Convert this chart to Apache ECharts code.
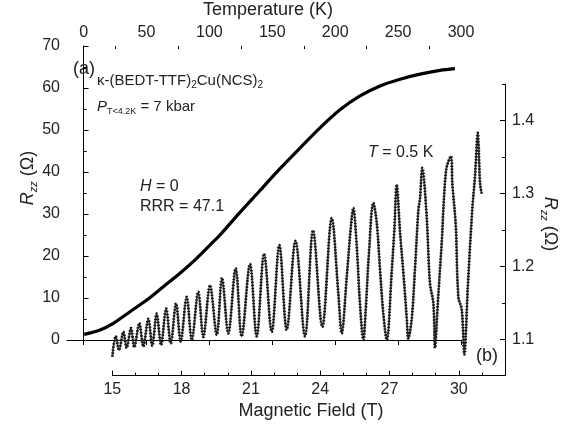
<!DOCTYPE html>
<html><head><meta charset="utf-8">
<script src="https://cdn.jsdelivr.net/npm/echarts@6/dist/echarts.min.js"></script>
<style>html,body{margin:0;padding:0;background:#fff}#c{width:572px;height:429px}</style>
</head><body><div id="c"></div>
<script>
// Panel (a): zero-field resistance vs temperature
const tempK = [0.5, 13.0, 23.6, 36.9, 50.2, 63.4, 76.6, 89.9, 103.1, 108.4, 124.3, 140.2, 154.8, 172.0, 187.9, 203.8, 219.7, 235.6, 251.5, 267.4, 283.3, 295.2];
const rT    = [1.35, 2.38, 3.98, 6.74, 9.52, 12.7, 15.9, 19.45, 23.4, 25.0, 30.4, 35.6, 40.4, 45.7, 50.5, 54.8, 58.1, 60.5, 62.1, 63.3, 64.2, 64.6];
// Panel (b): magnetoresistance at T = 0.5 K
const fieldT = [15.0,15.15,15.29,15.48,15.62,15.81,15.95,16.17,16.34,16.56,
  16.73,16.92,17.11,17.33,17.53,17.76,17.96,18.22,18.44,18.72,
  18.94,19.23,19.52,19.75,20.02,20.34,20.60,20.96,21.25,21.57,
  21.90,22.23,22.55,22.93,23.34,23.69,24.09,24.50,24.78,24.93,
  25.15,25.33,25.43,25.58,25.72,25.87,25.97,26.11,26.30,26.45,
  26.59,26.73,26.88,27.10,27.21,27.31,27.46,27.60,27.75,27.81,
  27.96,28.10,28.25,28.32,28.42,28.61,28.75,28.90,28.97,29.09,
  29.26,29.45,29.66,29.72,29.87,29.98,30.13,30.24,30.39,30.58,
  30.70,30.82,30.92,30.99];
const rB = [1.076,1.104,1.085,1.110,1.088,1.115,1.089,1.122,1.090,1.128,
  1.091,1.135,1.092,1.142,1.094,1.149,1.097,1.158,1.099,1.165,
  1.103,1.174,1.106,1.184,1.108,1.197,1.104,1.203,1.104,1.217,
  1.110,1.229,1.113,1.235,1.104,1.249,1.117,1.266,1.165,1.108,
  1.186,1.255,1.280,1.229,1.149,1.099,1.140,1.218,1.287,1.259,
  1.195,1.136,1.099,1.195,1.250,1.312,1.245,1.191,1.127,1.101,
  1.127,1.195,1.277,1.293,1.335,1.268,1.177,1.149,1.088,1.149,
  1.232,1.332,1.351,1.314,1.255,1.158,1.140,1.079,1.172,1.277,
  1.323,1.383,1.314,1.300];
// Tick labels
const tempTicks = [0, 50, 100, 150, 200, 250, 300];
const tempMinor = [25, 75, 125, 175, 225, 275];
const fieldTicks = [15, 18, 21, 24, 27, 30];
const fieldMinor = [16, 17, 19, 20, 22, 23, 25, 26, 28, 29, 31];
const rRightTicks = [1.1, 1.2, 1.3, 1.4];
const rRightMinor = [1.05, 1.15, 1.25, 1.35, 1.45];

const FONT = "'Liberation Sans', Arial, sans-serif";
const black = '#000';
const txt = '#222';

function majorAxis(extra) {
  return Object.assign({
    type: 'value',
    axisLine: {show: true, lineStyle: {color: black, width: 1}},
    axisTick: {show: true, inside: true, length: 5, lineStyle: {color: black, width: 1}},
    axisLabel: {fontSize: 16, color: txt, fontFamily: FONT},
    splitLine: {show: false}
  }, extra);
}
function minorAxis(extra) {
  return Object.assign({
    type: 'value',
    axisLine: {show: false},
    axisLabel: {show: false},
    splitLine: {show: false}
  }, extra);
}
const bData = fieldT.map((b, i) => [b, rB[i]]);

const chart = echarts.init(document.getElementById('c'), null, {renderer: 'canvas'});
const option = {
  animation: false,
  backgroundColor: '#fff',
  grid: [
    {left: 67, top: 46, width: 394, height: 294},
    {left: 112.3, top: 84.2, width: 392.7, height: 291.4}
  ],
  xAxis: [
    majorAxis({gridIndex: 0, position: 'top', min: -13.2, max: 300,
      axisTick: {show: true, inside: true, length: 5, customValues: tempTicks, lineStyle: {color: black}},
      axisLabel: {customValues: tempTicks, fontSize: 16, color: txt, fontFamily: FONT, margin: 5}}),
    minorAxis({gridIndex: 0, position: 'top', min: -13.2, max: 300,
      axisTick: {show: true, inside: true, length: 3, customValues: tempMinor, lineStyle: {color: black}}}),
    majorAxis({gridIndex: 1, position: 'bottom', min: 15, max: 32,
      axisTick: {show: true, inside: true, length: 5, customValues: fieldTicks, lineStyle: {color: black}},
      axisLabel: {customValues: fieldTicks, fontSize: 16, color: txt, fontFamily: FONT, margin: 6}}),
    minorAxis({gridIndex: 1, position: 'bottom', min: 15, max: 32,
      axisTick: {show: true, inside: true, length: 3, customValues: fieldMinor, lineStyle: {color: black}}})
  ],
  yAxis: [
    majorAxis({gridIndex: 0, position: 'left', min: 0, max: 70, interval: 10,
      minorTick: {show: true, splitNumber: 2, length: 3, lineStyle: {color: black}},
      axisLabel: {fontSize: 16, color: txt, fontFamily: FONT, margin: 7}}),
    majorAxis({gridIndex: 1, position: 'right', min: 1.05, max: 1.45,
      axisTick: {show: true, inside: true, length: 5, customValues: rRightTicks, lineStyle: {color: black}},
      axisLabel: {customValues: rRightTicks, fontSize: 16, color: txt, fontFamily: FONT, margin: 7,
        formatter: v => v.toFixed(1)}}),
    minorAxis({gridIndex: 1, position: 'right', min: 1.05, max: 1.45,
      axisTick: {show: true, inside: true, length: 3, customValues: rRightMinor, lineStyle: {color: black}}})
  ],
  series: [
    {type: 'line', xAxisIndex: 0, yAxisIndex: 0, data: tempK.map((t, i) => [t, rT[i]]),
      smooth: 0.3, symbol: 'none', lineStyle: {color: '#000', width: 3.2}},
    {type: 'line', xAxisIndex: 2, yAxisIndex: 1, data: bData,
      smooth: 0.35, symbol: 'none', lineStyle: {color: '#444', width: 1.8}},
    {type: 'line', xAxisIndex: 2, yAxisIndex: 1, data: bData,
      smooth: 0.35, symbol: 'none', lineStyle: {color: '#111', width: 2.8, type: [1.4, 1.6]}}
  ],
  graphic: [
    {type: 'text', x: 268, y: 10, style: {text: 'Temperature (K)', fontSize: 18, fontFamily: FONT, fill: txt, align: 'center', verticalAlign: 'middle'}},
    {type: 'text', x: 311, y: 411, style: {text: 'Magnetic Field (T)', fontSize: 18, fontFamily: FONT, fill: txt, align: 'center', verticalAlign: 'middle'}},
    {type: 'text', x: 28, y: 178, rotation: Math.PI / 2, style: {
      text: '{i|R}{s|zz}{n| (Ω)}', fontFamily: FONT, fill: txt, align: 'center', verticalAlign: 'middle',
      rich: {i: {fontSize: 18, fontStyle: 'italic', lineHeight: 22, fontFamily: FONT, fill: txt},
             s: {fontSize: 11, fontStyle: 'italic', lineHeight: 11, verticalAlign: 'bottom', fontFamily: FONT, fill: txt},
             n: {fontSize: 18, lineHeight: 22, fontFamily: FONT, fill: txt}}}},
    {type: 'text', x: 550, y: 224, rotation: -Math.PI / 2, style: {
      text: '{i|R}{s|zz}{n| (Ω)}', fontFamily: FONT, fill: txt, align: 'center', verticalAlign: 'middle',
      rich: {i: {fontSize: 18, fontStyle: 'italic', lineHeight: 22, fontFamily: FONT, fill: txt},
             s: {fontSize: 11, fontStyle: 'italic', lineHeight: 11, verticalAlign: 'bottom', fontFamily: FONT, fill: txt},
             n: {fontSize: 18, lineHeight: 22, fontFamily: FONT, fill: txt}}}},
    {type: 'text', x: 73, y: 69, style: {text: '(a)', fontSize: 18, fontFamily: FONT, fill: txt, align: 'left', verticalAlign: 'middle'}},
    {type: 'text', x: 476, y: 356, style: {text: '(b)', fontSize: 18, fontFamily: FONT, fill: txt, align: 'left', verticalAlign: 'middle'}},
    {type: 'text', x: 97, y: 81, style: {
      text: '{n|κ-(BEDT-TTF)}{s|2}{n|Cu(NCS)}{s|2}', fontFamily: FONT, fill: txt, align: 'left', verticalAlign: 'middle',
      rich: {n: {fontSize: 15, lineHeight: 18, fontFamily: FONT, fill: txt},
             s: {fontSize: 10, lineHeight: 10, verticalAlign: 'bottom', fontFamily: FONT, fill: txt}}}},
    {type: 'text', x: 97, y: 107, style: {
      text: '{i|P}{s|T<4.2K}{n| = 7 kbar}', fontFamily: FONT, fill: txt, align: 'left', verticalAlign: 'middle',
      rich: {i: {fontSize: 15, fontStyle: 'italic', lineHeight: 18, fontFamily: FONT, fill: txt},
             s: {fontSize: 9, lineHeight: 8, verticalAlign: 'bottom', fontFamily: FONT, fill: txt},
             n: {fontSize: 15, lineHeight: 18, fontFamily: FONT, fill: txt}}}},
    {type: 'text', x: 140, y: 187, style: {
      text: '{i|H}{n| = 0}', fontFamily: FONT, fill: txt, align: 'left', verticalAlign: 'middle',
      rich: {i: {fontSize: 16, fontStyle: 'italic', fontFamily: FONT, fill: txt}, n: {fontSize: 16, fontFamily: FONT, fill: txt}}}},
    {type: 'text', x: 140, y: 207, style: {text: 'RRR = 47.1', fontSize: 16, fontFamily: FONT, fill: txt, align: 'left', verticalAlign: 'middle'}},
    {type: 'text', x: 368, y: 153, style: {
      text: '{i|T}{n| = 0.5 K}', fontFamily: FONT, fill: txt, align: 'left', verticalAlign: 'middle',
      rich: {i: {fontSize: 16, fontStyle: 'italic', fontFamily: FONT, fill: txt}, n: {fontSize: 16, fontFamily: FONT, fill: txt}}}}
  ]
};
chart.setOption(option);
</script></body></html>
